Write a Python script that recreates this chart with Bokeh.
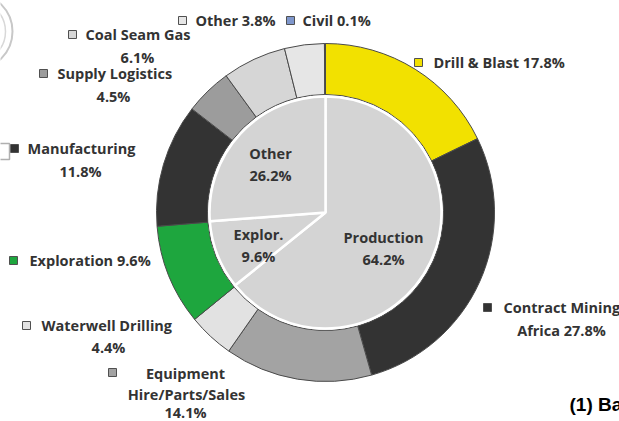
import math
from bokeh.plotting import figure
from bokeh.models import Range1d
from bokeh.core.properties import value
from bokeh.embed import file_html
from bokeh.resources import INLINE

# ---- data ----
outer_labels = ["Drill & Blast", "Contract Mining Africa", "Equipment Hire/Parts/Sales",
                "Waterwell Drilling", "Exploration", "Manufacturing", "Supply Logistics",
                "Coal Seam Gas", "Other", "Civil"]
outer_values = [17.8, 27.8, 14.1, 4.4, 9.6, 11.8, 4.5, 6.1, 3.8, 0.1]
outer_colors = ["#f2e100", "#333333", "#a3a3a3", "#e2e2e2", "#1ea63e", "#333333",
                "#9c9c9c", "#d6d6d6", "#e6e6e6", "#7f97cc"]

inner_labels = ["Production", "Explor.", "Other"]
inner_values = [64.2, 9.6, 26.2]

# ---- layout (screen pixel coordinates of the 619x421 page) ----
W, H = 619, 421
def Y(sy):
    return H - sy

CX, CY = 325, 212
R_OUT, R_IN, R_PIE = 169, 118, 116

FONT = value("Open Sans")
FS = "14.5px"
TXT = "#333333"

p = figure(width=W, height=H, x_range=Range1d(0, W), y_range=Range1d(0, H),
           output_backend="svg", toolbar_location=None, min_border=0)
p.axis.visible = False
p.grid.visible = False
p.outline_line_color = None
p.background_fill_color = "white"

def angles(vals):
    tot = sum(vals)
    starts, ends = [], []
    c = 0.0
    for v in vals:
        starts.append(math.pi / 2 - 2 * math.pi * c / tot)
        c += v
        ends.append(math.pi / 2 - 2 * math.pi * c / tot)
    return starts, ends

os_, oe_ = angles(outer_values)
p.annular_wedge(x=[CX] * len(outer_values), y=[Y(CY)] * len(outer_values),
                inner_radius=R_IN, outer_radius=R_OUT,
                start_angle=os_, end_angle=oe_, direction="clock",
                fill_color=outer_colors, line_color="#4a4a4a", line_width=1)

is_, ie_ = angles(inner_values)
p.wedge(x=[CX] * 3, y=[Y(CY)] * 3, radius=R_PIE, start_angle=is_, end_angle=ie_,
        direction="clock", fill_color="#d4d4d4", line_color="white", line_width=2.5)

# inner labels
inner_pos = [(383, 237), (258, 234), (270, 153)]
for lab, v, (x, y) in zip(inner_labels, inner_values, inner_pos):
    p.text(x=[x, x], y=[Y(y), Y(y + 22)], text=[lab, f"{v}%"], text_align="center",
           text_baseline="middle", text_font=FONT, text_font_style="bold",
           text_font_size=FS, text_color=TXT)

# outer labels: marker position and text lines
vals = dict(zip(outer_labels, outer_values))
cols = dict(zip(outer_labels, outer_colors))
layout = {
    "Drill & Blast": ((418, 62), [("Drill & Blast {v}%", 433, 62, "left")]),
    "Contract Mining Africa": ((487, 307), [("Contract Mining", 503, 307, "left"),
                                            ("Africa {v}%", 561, 330, "center")]),
    "Equipment Hire/Parts/Sales": ((112, 372), [("Equipment", 185, 373, "center"),
                                                ("Hire/Parts/Sales", 186, 394, "center"),
                                                ("{v}%", 185, 412, "center")]),
    "Waterwell Drilling": ((26, 325), [("Waterwell Drilling", 41, 325, "left"),
                                       ("{v}%", 108, 347, "center")]),
    "Exploration": ((13, 260), [("Exploration {v}%", 29, 260, "left")]),
    "Manufacturing": ((14, 148), [("Manufacturing", 27, 148, "left"),
                                  ("{v}%", 80, 171, "center")]),
    "Supply Logistics": ((43, 73), [("Supply Logistics", 57, 73, "left"),
                                    ("{v}%", 113, 96, "center")]),
    "Coal Seam Gas": ((72, 34), [("Coal Seam Gas", 85, 34, "left"),
                                 ("{v}%", 137, 57, "center")]),
    "Other": ((182, 20), [("Other {v}%", 195, 20, "left")]),
    "Civil": ((290, 20), [("Civil {v}%", 302, 20, "left")]),
}

for lab in outer_labels:
    (mx, my), lines = layout[lab]
    p.scatter(x=[mx], y=[Y(my)], marker="square", size=8, fill_color=cols[lab],
              line_color="#505050", line_width=1)
    for t, x, y, al in lines:
        p.text(x=[x], y=[Y(y)], text=[t.format(v=vals[lab])], text_align=al,
               text_baseline="middle", text_font=FONT, text_font_style="bold",
               text_font_size=FS, text_color=TXT)

# caption fragment at bottom right (cut by the page edge, as in the source)
p.text(x=[569], y=[Y(404)], text=["(1) Background"], text_align="left", text_baseline="middle",
       text_font=value("Liberation Sans"), text_font_style="bold", text_font_size="19px",
       text_color="black")

# partial logo circle at top-left
p.circle(x=[-26], y=[Y(31)], radius=38, fill_color=None, line_color="#c8c8c8", line_width=2)
p.circle(x=[-26], y=[Y(31)], radius=31, fill_color=None, line_color="#d8d8d8", line_width=1.5)
# small box fragment at left edge
p.rect(x=[3], y=[Y(151)], width=12, height=16, fill_color=None, line_color="#b0b0b0", line_width=1.5)

open("out.html", "w").write(file_html(p, INLINE))
